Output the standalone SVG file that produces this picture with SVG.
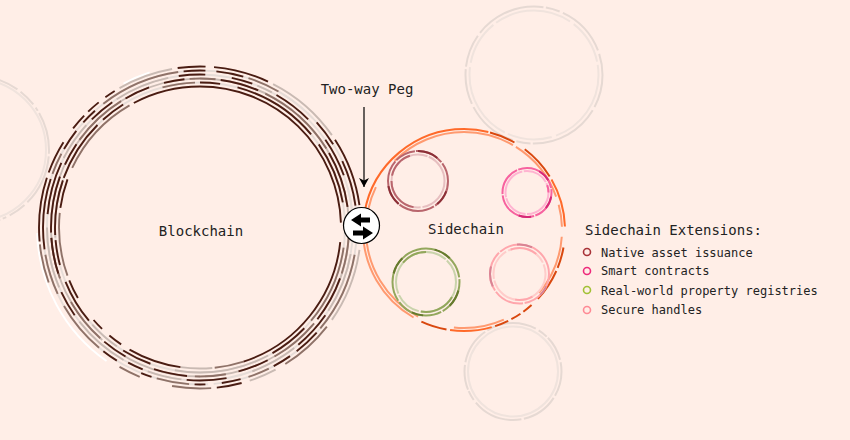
<svg xmlns="http://www.w3.org/2000/svg" width="850" height="440" viewBox="0 0 850 440">
<style>
text{font-family:"DejaVu Sans Mono","Liberation Mono",monospace;fill:#222}
.t14{font-size:14px}.t12{font-size:12px}
circle{fill:none}
.m circle{stroke-width:1.9}
.s circle{stroke-width:2}
.k{stroke:#4a1c12}.d{stroke:#8f7268}.l{stroke:#c9bab3}.p{stroke:#e6dcd7}.w{stroke:#fff}
.g circle{stroke:#e6d9d3;stroke-width:2}
.g .i{stroke:#f0e3dd}
.or1{stroke:#d9480f}.or2{stroke:#ff6a2a}.or3{stroke:#ff9a70}
.a1{stroke:#8b2f36}.a2{stroke:#b9666d}.a3{stroke:#e7bfc0}
.b1{stroke:#d62a78}.b2{stroke:#f7629f}.b3{stroke:#ffb3d1}
.c1{stroke:#667a2e}.c2{stroke:#93a75c}.c3{stroke:#c9d3ab}
.e1{stroke:#d98494}.e2{stroke:#ffa6ac}.e3{stroke:#ffccca}
</style>
<defs>
<marker id="ah" markerUnits="userSpaceOnUse" markerWidth="10" markerHeight="10" refX="9" refY="5" orient="auto"><path d="M0 0L9 5L0 10L2.500 5Z" fill="#000"/></marker>
</defs>
<rect width="850" height="440" fill="#ffeee7"/>
<g id="ghost-left" class="g"><circle cx="-25" cy="150" r="74" pathLength="360" stroke-dasharray="3 2 40 3 14 3"/><circle class="i" cx="-25" cy="150" r="71"/></g>
<g id="ghost-top" class="g"><circle cx="534" cy="75" r="68.500" pathLength="360" stroke-dasharray="28 3 60 2 12 3 44 3 30 2"/><circle class="i" cx="534" cy="75" r="64.500" pathLength="360" stroke-dasharray="70 4 40 3"/></g>
<g id="ghost-bottom" class="g"><circle cx="513" cy="371.500" r="48.500" pathLength="360" stroke-dasharray="30 3 44 3 60 4 12 2"/><circle class="i" cx="513" cy="371.500" r="45"/></g>
<g id="blockchain" class="m">
<circle class="w" cx="200" cy="227.500" r="163" pathLength="360" stroke-dasharray="0 125 53 64 10 720"/>
<circle class="p" cx="200" cy="227.500" r="157" pathLength="360" stroke-dasharray="50 2 33 2"/>
<circle class="p" cx="200" cy="227.500" r="153" pathLength="360" stroke-dasharray="41 2 60 2"/>
<circle class="l" cx="200" cy="227.500" r="149" pathLength="360" stroke-dasharray="38 3 47 2"/>
<circle class="p" cx="200" cy="227.500" r="145" pathLength="360" stroke-dasharray="70 2 23 2"/>
<circle class="l" cx="200" cy="227.500" r="161" pathLength="360" stroke-dasharray="0 8 27 27 10 168 20 37 28 720"/>
<circle class="d" cx="200" cy="227.500" r="161" pathLength="360" stroke-dasharray="0 38 20 28 14 12 8 40 14 720"/>
<circle class="k" cx="200" cy="227.500" r="161" pathLength="360" stroke-dasharray="0 75 9 91 23 2 12 6 6 2 5 3 4 24 10 3 20 32 25 720"/>
<circle class="p" cx="200" cy="227.500" r="157" pathLength="360" stroke-dasharray="0 302 14 720"/>
<circle class="d" cx="200" cy="227.500" r="157" pathLength="360" stroke-dasharray="0 10 30 24 8 22 12 24 20 5 15 30 8 24 30 26 12 720"/>
<circle class="k" cx="200" cy="227.500" r="157" pathLength="360" stroke-dasharray="0 42 10 3 7 13 7 6 4 16 4 10 6 44 26 12 8 4 6 36 8 4 10 32 10 7 17 720"/>
<circle class="p" cx="200" cy="227.500" r="153" pathLength="360" stroke-dasharray="0 345 15 720"/>
<circle class="l" cx="200" cy="227.500" r="153" pathLength="360" stroke-dasharray="0 10 23 19 18 27 13 10 22 15 23 27 15 15 21 34 6 720"/>
<circle class="k" cx="200" cy="227.500" r="153" pathLength="360" stroke-dasharray="0 35 15 30 15 17 6 27 10 30 20 20 10 27 10 10 8 10 15 10 15 165 19 720"/>
<circle class="d" cx="200" cy="227.500" r="149" pathLength="360" stroke-dasharray="0 4 14 22 20 20 12 40 18 10 16 40 22 28 10 20 32 720"/>
<circle class="k" cx="200" cy="227.500" r="149" pathLength="360" stroke-dasharray="0 20 18 25 12 20 13 12 10 48 22 5 9 26 10 6 8 14 15 37 22 720"/>
<circle class="k" cx="200" cy="227.500" r="149" pathLength="360" stroke-dasharray="0 162 14 720"/>
<circle class="l" cx="200" cy="227.500" r="145" pathLength="360" stroke-dasharray="0 62 38 25 13 38 22 720"/>
<circle class="d" cx="200" cy="227.500" r="145" pathLength="360" stroke-dasharray="0 8 32 215 13 720"/>
<circle class="k" cx="200" cy="227.500" r="145" pathLength="360" stroke-dasharray="0 44 16 50 12 18 18 7 10 25 25 3 10 32 8 7 35 5 25 720"/>
<circle class="k" cx="200" cy="227.500" r="145" pathLength="360" stroke-dasharray="0 177 22 720"/>
<circle class="l" cx="200" cy="227.500" r="141" pathLength="360" stroke-dasharray="0 85 13 720"/>
<circle class="d" cx="200" cy="227.500" r="141" pathLength="360" stroke-dasharray="0 72 12 76 26 19 35 720"/>
<circle class="k" cx="200" cy="227.500" r="141" pathLength="360" stroke-dasharray="0 6 66 26 22 4 6 4 5 11 8 30 12 42 116 720"/>
<text class="t14" x="201" y="236" text-anchor="middle">Blockchain</text>
</g>
<g id="sidechain" class="s">
<circle class="or3" cx="464" cy="230" r="98" pathLength="360" stroke-dasharray="0 4 36 26 30 22 68 6 14 19 75 2 38 5 13 720"/>
<circle class="or3" cx="464" cy="230" r="101" pathLength="360" stroke-dasharray="0 120 68 720"/>
<circle class="or2" cx="464" cy="230" r="101" pathLength="360" stroke-dasharray="0 74 24 92 94 46 28 720"/>
<circle class="or1" cx="464" cy="230" r="101" pathLength="360" stroke-dasharray="0 10 12 2 19 5 6 2 6 2 8 28 15 170 15 7 21 720"/>
<text class="t14" x="466" y="234" text-anchor="middle">Sidechain</text>
</g>
<g id="ext-native" class="s">
<circle class="a2" cx="418" cy="181" r="30" pathLength="360" stroke-dasharray="55 3 70 3 90 3 40 2"/>
<circle class="a1" cx="418" cy="181" r="30" pathLength="360" stroke-dasharray="0 20 30 80 40 100 40 720"/>
<circle class="a3" cx="418" cy="181" r="26.500" pathLength="360" stroke-dasharray="80 4 60 3"/>
<circle class="a2" cx="418" cy="181" r="26.500" pathLength="360" stroke-dasharray="0 100 80 12 60 720"/>
</g>
<g id="ext-smart" class="s">
<circle class="b2" cx="527" cy="192.500" r="24.500" pathLength="360" stroke-dasharray="70 3 100 3"/>
<circle class="b1" cx="527" cy="192.500" r="24.500" pathLength="360" stroke-dasharray="0 10 30 40 30 190 30 720"/>
<circle class="b3" cx="527" cy="192.500" r="21.500" pathLength="360" stroke-dasharray="90 4 70 3"/>
<circle class="b2" cx="527" cy="192.500" r="21.500" pathLength="360" stroke-dasharray="0 340 20 720"/>
</g>
<g id="ext-property" class="s">
<circle class="c2" cx="426" cy="282" r="33.500" pathLength="360" stroke-dasharray="60 3 80 3"/>
<circle class="c1" cx="426" cy="282" r="33.500" pathLength="360" stroke-dasharray="0 15 30 50 20 80 30 60 30 720"/>
<circle class="c3" cx="426" cy="282" r="30" pathLength="360" stroke-dasharray="100 4 50 3"/>
<circle class="c2" cx="426" cy="282" r="30" pathLength="360" stroke-dasharray="0 30 70 120 50 720"/>
</g>
<g id="ext-handles" class="s">
<circle class="e2" cx="519.500" cy="274" r="29.500" pathLength="360" stroke-dasharray="80 3 60 3"/>
<circle class="e1" cx="519.500" cy="274" r="29.500" pathLength="360" stroke-dasharray="0 25 20 110 40 70 30 720"/>
<circle class="e3" cx="519.500" cy="274" r="26" pathLength="360" stroke-dasharray="70 5 90 4"/>
<circle class="e2" cx="519.500" cy="274" r="26" pathLength="360" stroke-dasharray="0 60 40 150 60 720"/>
</g>
<g id="connectors"><line x1="364" y1="107" x2="364" y2="187" stroke="#000" stroke-width="1.200" marker-end="url(#ah)"/></g>
<g id="peg">
<circle cx="361.500" cy="225.500" r="18" style="fill:#fff;stroke:#000;stroke-width:1.200"/>
<path d="M351 220L361 213.500V217.500H370V222.500H361V226.500Z" fill="#000"/>
<path d="M373 233L363 226.500V230.500H353V235.500H363V239.500Z" fill="#000"/>
<text class="t14" x="367" y="94" text-anchor="middle">Two-way Peg</text>
</g>
<g id="legend">
<text class="t14" x="585" y="235">Sidechain Extensions:</text>
<circle cx="587" cy="252" r="3.500" stroke="#a83238" stroke-width="1.600"/>
<circle cx="587" cy="271" r="3.500" stroke="#ee2a7b" stroke-width="1.600"/>
<circle cx="587" cy="290" r="3.500" stroke="#a2c135" stroke-width="1.600"/>
<circle cx="587" cy="310" r="3.500" stroke="#ff8a95" stroke-width="1.600"/>
<text class="t12" x="601" y="257">Native asset issuance</text>
<text class="t12" x="601" y="275">Smart contracts</text>
<text class="t12" x="601" y="295">Real-world property registries</text>
<text class="t12" x="601" y="314">Secure handles</text>
</g>
</svg>
